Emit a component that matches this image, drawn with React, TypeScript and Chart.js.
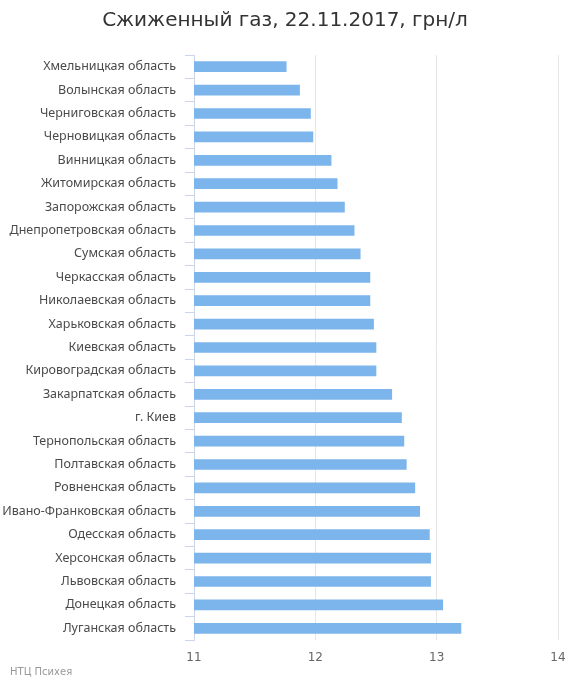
import React, { useEffect, useRef } from "react";
import { Chart, registerables } from "chart.js";

Chart.register(...registerables);

const TITLE = "Сжиженный газ, 22.11.2017, грн/л";
const CREDIT = "НТЦ Психея";

const regions: string[] = [
  "Хмельницкая область",
  "Волынская область",
  "Черниговская область",
  "Черновицкая область",
  "Винницкая область",
  "Житомирская область",
  "Запорожская область",
  "Днепропетровская область",
  "Сумская область",
  "Черкасская область",
  "Николаевская область",
  "Харьковская область",
  "Киевская область",
  "Кировоградская область",
  "Закарпатская область",
  "г. Киев",
  "Тернопольская область",
  "Полтавская область",
  "Ровненская область",
  "Ивано-Франковская область",
  "Одесская область",
  "Херсонская область",
  "Львовская область",
  "Донецкая область",
  "Луганская область",
];

const prices: number[] = [
  11.76, 11.87, 11.96, 11.98, 12.13, 12.18, 12.24, 12.32, 12.37, 12.45,
  12.45, 12.48, 12.50, 12.50, 12.63, 12.71, 12.73, 12.75, 12.82, 12.86,
  12.94, 12.95, 12.95, 13.05, 13.20,
];

const X_MIN = 11;
const X_MAX = 14;
const X_STEP = 1;

const FONT = "'DejaVu Sans', sans-serif";
const LABEL_FONT = "'Noto Sans', sans-serif";

const creditPlugin = {
  id: "credit",
  afterDraw(chart: any) {
    const ctx = chart.ctx;
    ctx.save();
    ctx.font = `10px ${FONT}`;
    ctx.fillStyle = "#999999";
    ctx.textAlign = "left";
    ctx.textBaseline = "middle";
    ctx.fillText(CREDIT, 10, chart.height - 12);
    ctx.restore();
  },
};

export default function App() {
  const ref = useRef<HTMLCanvasElement | null>(null);

  useEffect(() => {
    document.body.style.margin = "0";
    const canvas = ref.current;
    if (!canvas) return;
    const chart = new Chart(canvas, {
      type: "bar",
      data: {
        labels: regions,
        datasets: [
          {
            data: prices,
            backgroundColor: "#7cb5ec",
            borderWidth: 0,
            barThickness: 10,
          },
        ],
      },
      plugins: [creditPlugin],
      options: {
        indexAxis: "y",
        animation: false,
        responsive: false,
        devicePixelRatio: 1,
        layout: { padding: { left: 0, right: 0, top: 0, bottom: 18 } },
        plugins: {
          legend: { display: false },
          tooltip: { enabled: false },
          title: {
            display: true,
            text: TITLE,
            color: "#333333",
            font: { family: FONT, size: 20, weight: "normal" },
            padding: { top: 9, bottom: 22 },
          },
        },
        scales: {
          x: {
            type: "linear",
            min: X_MIN,
            max: X_MAX,
            afterFit: (s: any) => {
              s.height = 26;
              s.paddingRight = 12;
              s.paddingLeft = 0;
            },
            ticks: {
              stepSize: X_STEP,
              color: "#666666",
              font: { family: FONT, size: 12 },
              padding: 11,
            },
            grid: {
              color: "#e6e6e6",
              drawTicks: false,
              lineWidth: 1,
            },
            border: { display: false },
          },
          y: {
            type: "category",
            afterFit: (s: any) => {
              s.width = 194;
            },
            ticks: {
              color: "#4a4a4a",
              font: { family: LABEL_FONT, size: 12.5 },
              padding: 9,
              autoSkip: false,
            },
            grid: {
              offset: true,
              drawOnChartArea: false,
              drawTicks: true,
              tickLength: 9,
              color: "#ccd6eb",
            },
            border: { display: true, color: "#ccd6eb" },
          },
        },
      },
    });
    return () => chart.destroy();
  }, []);

  return (
    <div style={{ width: 570, height: 684 }}>
      <canvas ref={ref} width={570} height={684} />
    </div>
  );
}
